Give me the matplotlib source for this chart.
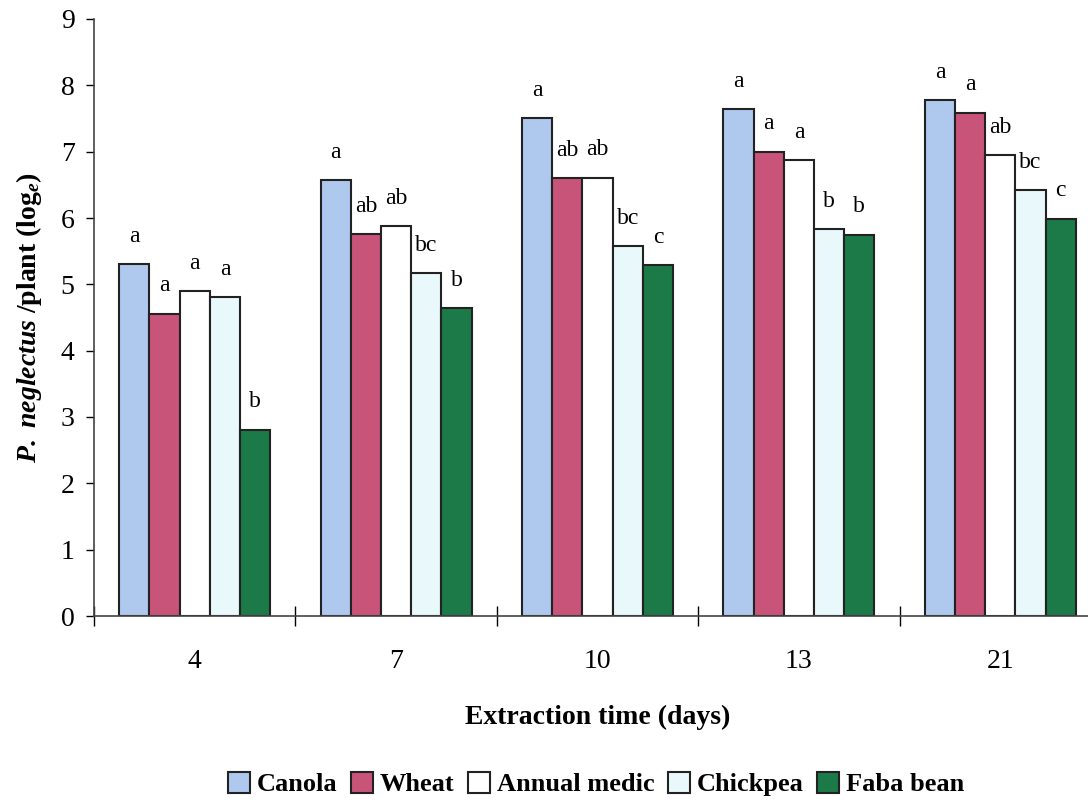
import numpy as np
import matplotlib
matplotlib.use('Agg')
import matplotlib.pyplot as plt

plt.rcParams['font.family'] = 'Liberation Serif'
plt.rcParams['mathtext.fontset'] = 'custom'
plt.rcParams['mathtext.rm'] = 'Liberation Serif:bold'
plt.rcParams['mathtext.it'] = 'Liberation Serif:italic:bold'
plt.rcParams['mathtext.bf'] = 'Liberation Serif:bold'

days = ['4', '7', '10', '13', '21']
crops = ['Canola', 'Wheat', 'Annual medic', 'Chickpea', 'Faba bean']

canola = [5.30, 6.57, 7.51, 7.64, 7.78]
wheat = [4.56, 5.76, 6.60, 7.00, 7.59]
annual_medic = [4.90, 5.88, 6.61, 6.87, 6.95]
chickpea = [4.81, 5.17, 5.58, 5.83, 6.42]
faba_bean = [2.81, 4.64, 5.29, 5.75, 5.99]

# significance letters per crop, one per extraction time
canola_sig = ['a', 'a', 'a', 'a', 'a']
wheat_sig = ['a', 'ab', 'ab', 'a', 'a']
annual_medic_sig = ['a', 'ab', 'ab', 'a', 'ab']
chickpea_sig = ['a', 'bc', 'bc', 'b', 'bc']
faba_bean_sig = ['b', 'b', 'c', 'b', 'c']

series = [canola, wheat, annual_medic, chickpea, faba_bean]
letters = [canola_sig, wheat_sig, annual_medic_sig, chickpea_sig, faba_bean_sig]
colors = ['#aec8ee', '#c9547a', '#ffffff', '#e9f8fa', '#1b7a47']

fig = plt.figure(figsize=(10.88, 8), dpi=100)
ax = fig.add_axes([94 / 1088, 1 - 616 / 800, 1007 / 1088, (616 - 19) / 800])

x = np.arange(len(days))
width = 0.15
for i, (vals, sig) in enumerate(zip(series, letters)):
    pos = x + (i - 2) * width
    ax.bar(pos, vals, width, color=colors[i], edgecolor='#222222',
           linewidth=1.5, label=crops[i])
    for px, v, s in zip(pos, vals, sig):
        ax.text(px, v + 0.26, s, ha='center', va='bottom', fontsize=17)

ax.set_xlim(-0.5, len(days) - 0.5)
ax.set_ylim(0, 9)
ax.set_yticks(range(10))
ax.tick_params(axis='y', direction='out', length=6, width=1, labelsize=20, pad=8)
ax.set_xticks(x)
ax.set_xticklabels(days)
ax.tick_params(axis='x', which='major', length=0, labelsize=20, pad=24)
ax.set_xticks(np.arange(-0.5, len(days), 1.0), minor=True)
ax.tick_params(axis='x', which='minor', direction='inout', length=14, width=1)

for side in ['top', 'right']:
    ax.spines[side].set_visible(False)
for side in ['left', 'bottom']:
    ax.spines[side].set_color('#444444')
    ax.spines[side].set_linewidth(1.2)

ax.set_xlabel('Extraction time (days)', fontsize=20, fontweight='bold', labelpad=22)
ax.set_ylabel(r'$\mathit{P.\ neglectus}$ /plant (log$_e$)', fontsize=20,
              fontweight='bold', labelpad=12)

fig.legend(loc='center', bbox_to_anchor=(596 / 1088, 1 - 784 / 800), ncol=5,
           frameon=False, handlelength=0.85, handleheight=0.85,
           handletextpad=0.25, columnspacing=0.5, borderaxespad=0,
           prop={'weight': 'bold', 'size': 19})

fig.savefig('out.png', dpi=100)
